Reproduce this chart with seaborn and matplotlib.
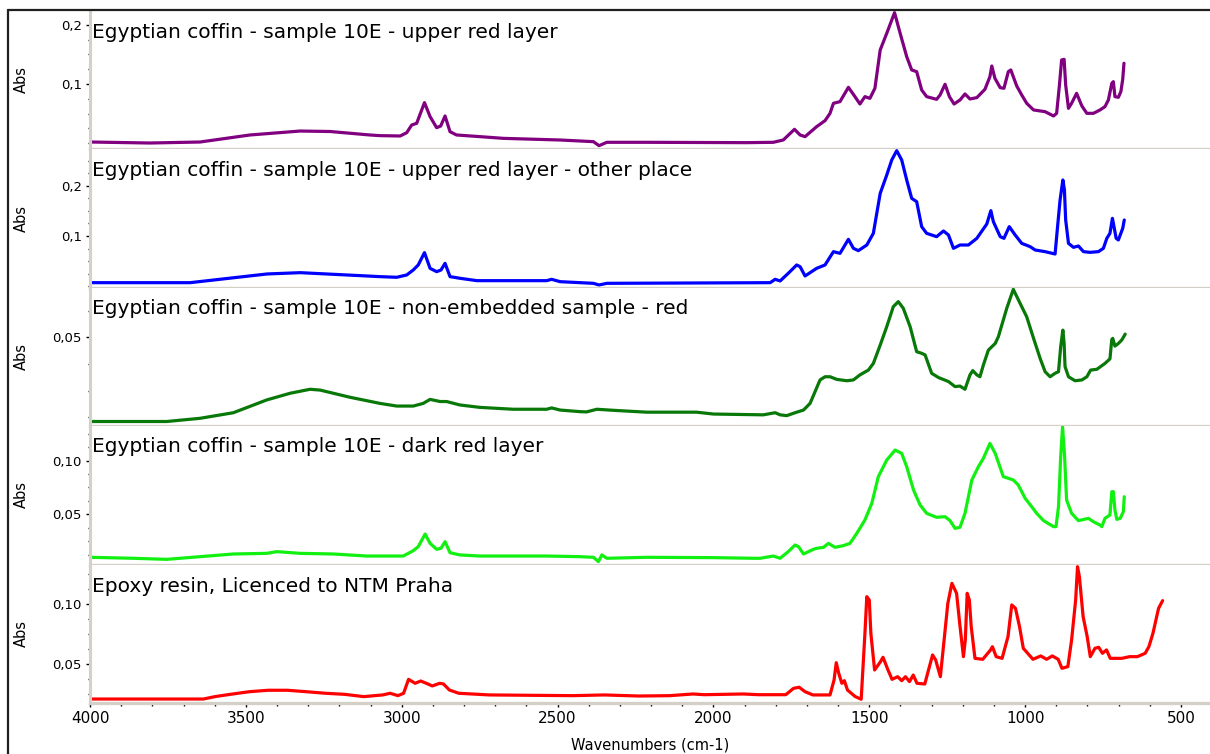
import matplotlib
matplotlib.use("Agg")
import matplotlib.pyplot as plt
from matplotlib.lines import Line2D
from matplotlib.ticker import MultipleLocator
import pandas as pd
import seaborn as sns

# ---- spectra: wavenumber (cm-1) and absorbance ----
purple_wn = [4000, 3808, 3647, 3487, 3326, 3230, 3102, 3070, 3005, 2984, 2968, 2952, 2927, 2909,
             2888, 2875, 2861, 2845, 2824, 2749, 2674, 2492, 2385, 2367, 2342, 2214, 1893, 1808,
             1776, 1740, 1722, 1706, 1669, 1642, 1626, 1615, 1594, 1567, 1546, 1530, 1514, 1498,
             1482, 1465, 1444, 1419, 1401, 1380, 1364, 1348, 1332, 1316, 1284, 1273, 1257, 1243,
             1228, 1209, 1193, 1177, 1155, 1129, 1113, 1107, 1097, 1080, 1068, 1054, 1046, 1027,
             1011, 995, 973, 936, 909, 899, 890, 883, 875, 870, 861, 851, 835, 818, 802, 781, 760,
             744, 733, 722, 717, 712, 701, 693, 687, 683]
purple_abs = [0.0017, 0.0000, 0.0017, 0.0136, 0.0203, 0.0195, 0.0136, 0.0125, 0.0119, 0.0175, 0.0305,
              0.0334, 0.0684, 0.0447, 0.0260, 0.0288, 0.0458, 0.0192, 0.0136, 0.0108, 0.0079, 0.0051,
              0.0023, -0.0045, 0.0012, 0.0012, 0.0006, 0.0012, 0.0051, 0.0232, 0.0136, 0.0108, 0.0277,
              0.0379, 0.0503, 0.0673, 0.0701, 0.0944, 0.0786, 0.0661, 0.0786, 0.0757, 0.0927, 0.1577,
              0.1859, 0.2209, 0.1859, 0.1464, 0.1238, 0.1209, 0.0899, 0.0786, 0.0740, 0.0814, 0.0995,
              0.0786, 0.0661, 0.0729, 0.0831, 0.0746, 0.0769, 0.0910, 0.1125, 0.1305, 0.1096, 0.0938,
              0.0927, 0.1209, 0.1238, 0.0966, 0.0814, 0.0673, 0.0560, 0.0531, 0.0458, 0.0503, 0.0983,
              0.1407, 0.1418, 0.0983, 0.0588, 0.0673, 0.0842, 0.0627, 0.0503, 0.0503, 0.0560, 0.0616,
              0.0729, 0.1012, 0.1040, 0.0786, 0.0774, 0.0870, 0.1079, 0.1351]

blue_wn = [4000, 3679, 3432, 3326, 3111, 3070, 3016, 2984, 2963, 2947, 2927, 2909, 2888, 2874,
           2861, 2845, 2813, 2759, 2535, 2519, 2492, 2385, 2367, 2342, 1818, 1802, 1786, 1760,
           1733, 1722, 1706, 1669, 1642, 1615, 1594, 1567, 1551, 1535, 1508, 1487, 1465, 1444,
           1428, 1412, 1396, 1380, 1364, 1348, 1332, 1316, 1284, 1262, 1246, 1230, 1209, 1182,
           1155, 1123, 1110, 1102, 1080, 1068, 1051, 1032, 1011, 984, 968, 936, 904, 897, 888,
           879, 874, 870, 861, 845, 829, 813, 792, 765, 749, 738, 728, 720, 715, 708, 701, 693,
           687, 682]
blue_abs = [0.0072, 0.0072, 0.0245, 0.0271, 0.0205, 0.0192, 0.0179, 0.0225, 0.0324, 0.0424, 0.0669,
            0.0357, 0.0291, 0.0324, 0.0457, 0.0192, 0.0159, 0.0112, 0.0112, 0.0139, 0.0092, 0.0059,
            0.0026, 0.0059, 0.0072, 0.0139, 0.0106, 0.0258, 0.0424, 0.0390, 0.0205, 0.0357, 0.0424,
            0.0689, 0.0655, 0.0934, 0.0755, 0.0709, 0.0821, 0.1053, 0.1848, 0.2213, 0.2511, 0.2697,
            0.2511, 0.2114, 0.1749, 0.1683, 0.1186, 0.1053, 0.0987, 0.1100, 0.1020, 0.0755, 0.0821,
            0.0821, 0.0954, 0.1239, 0.1504, 0.1285, 0.0987, 0.0954, 0.1186, 0.1020, 0.0854, 0.0788,
            0.0722, 0.0689, 0.0642, 0.1119, 0.1716, 0.2114, 0.1915, 0.1318, 0.0854, 0.0775, 0.0801,
            0.0689, 0.0675, 0.0689, 0.0755, 0.0954, 0.1053, 0.1351, 0.1186, 0.0954, 0.0921, 0.1053,
            0.1153, 0.1318]

dkgreen_wn = [4000, 3754, 3647, 3540, 3433, 3358, 3294, 3262, 3166, 3070, 3016, 2963, 2931, 2909,
              2877, 2856, 2813, 2749, 2642, 2535, 2519, 2492, 2428, 2407, 2374, 2321, 2214, 2054,
              2000, 1893, 1840, 1802, 1786, 1765, 1738, 1711, 1690, 1674, 1658, 1642, 1626, 1604,
              1572, 1551, 1530, 1503, 1487, 1465, 1444, 1423, 1407, 1391, 1369, 1348, 1332, 1321,
              1300, 1278, 1246, 1225, 1209, 1193, 1177, 1168, 1155, 1145, 1134, 1118, 1096, 1086,
              1059, 1038, 1016, 995, 973, 952, 936, 920, 904, 893, 886, 879, 875, 872, 861, 840,
              818, 802, 790, 770, 744, 728, 722, 719, 712, 701, 690, 679]
dkgreen_abs = [0.0184, 0.0184, 0.0196, 0.0217, 0.0265, 0.0290, 0.0305, 0.0302, 0.0275, 0.0252,
               0.0242, 0.0242, 0.0252, 0.0267, 0.0259, 0.0259, 0.0246, 0.0237, 0.0230, 0.0230,
               0.0235, 0.0227, 0.0221, 0.0220, 0.0230, 0.0226, 0.0219, 0.0219, 0.0212, 0.0210,
               0.0209, 0.0217, 0.0209, 0.0206, 0.0217, 0.0227, 0.0252, 0.0296, 0.0340, 0.0352,
               0.0352, 0.0342, 0.0337, 0.0340, 0.0359, 0.0377, 0.0402, 0.0471, 0.0540, 0.0615,
               0.0634, 0.0609, 0.0540, 0.0446, 0.0440, 0.0434, 0.0365, 0.0349, 0.0334, 0.0315,
               0.0317, 0.0305, 0.0359, 0.0375, 0.0359, 0.0352, 0.0396, 0.0452, 0.0477, 0.0502,
               0.0609, 0.0680, 0.0627, 0.0577, 0.0496, 0.0421, 0.0371, 0.0352, 0.0365, 0.0371,
               0.0465, 0.0527, 0.0477, 0.0390, 0.0352, 0.0337, 0.0340, 0.0352, 0.0377, 0.0380,
               0.0402, 0.0419, 0.0492, 0.0496, 0.0467, 0.0477, 0.0490, 0.0512]

ltgreen_wn = [4000, 3861, 3754, 3647, 3540, 3433, 3401, 3326, 3219, 3112, 3070, 2995, 2963, 2947,
              2925, 2909, 2888, 2874, 2861, 2845, 2813, 2749, 2535, 2428, 2385, 2369, 2358, 2342,
              2214, 2000, 1872, 1850, 1808, 1786, 1760, 1738, 1727, 1711, 1679, 1669, 1647, 1631,
              1610, 1583, 1562, 1540, 1514, 1492, 1471, 1444, 1417, 1396, 1380, 1358, 1337, 1316,
              1284, 1257, 1241, 1225, 1209, 1193, 1171, 1150, 1134, 1113, 1096, 1070, 1038, 1022,
              1000, 979, 963, 941, 909, 901, 893, 886, 880, 874, 867, 851, 829, 797, 781, 760, 754,
              744, 728, 722, 717, 712, 706, 695, 685, 682]
ltgreen_abs = [0.0099, 0.0090, 0.0080, 0.0105, 0.0130, 0.0136, 0.0152, 0.0136, 0.0130, 0.0111,
               0.0111, 0.0111, 0.0161, 0.0198, 0.0316, 0.0229, 0.0174, 0.0183, 0.0245, 0.0142,
               0.0121, 0.0111, 0.0111, 0.0105, 0.0099, 0.0059, 0.0121, 0.0090, 0.0099, 0.0096,
               0.0090, 0.0090, 0.0111, 0.0090, 0.0152, 0.0214, 0.0198, 0.0130, 0.0174, 0.0183,
               0.0192, 0.0229, 0.0192, 0.0208, 0.0229, 0.0323, 0.0447, 0.0602, 0.0851, 0.1006,
               0.1099, 0.1068, 0.0944, 0.0726, 0.0587, 0.0509, 0.0472, 0.0478, 0.0441, 0.0369,
               0.0379, 0.0509, 0.0820, 0.0944, 0.1022, 0.1161, 0.1068, 0.0851, 0.0820, 0.0773,
               0.0649, 0.0571, 0.0509, 0.0441, 0.0385, 0.0385, 0.0571, 0.1037, 0.1317, 0.1068,
               0.0633, 0.0509, 0.0441, 0.0462, 0.0431, 0.0400, 0.0385, 0.0462, 0.0494, 0.0711,
               0.0711, 0.0540, 0.0453, 0.0462, 0.0525, 0.0664]

red_wn = [4000, 3636, 3599, 3550, 3489, 3428, 3367, 3306, 3245, 3183, 3122, 3061, 3037, 3012,
          2994, 2978, 2957, 2939, 2921, 2902, 2878, 2866, 2847, 2817, 2719, 2450, 2351, 2239,
          2140, 2066, 2029, 1905, 1855, 1768, 1743, 1725, 1706, 1681, 1626, 1613, 1606, 1598,
          1588, 1580, 1570, 1545, 1526, 1514, 1508, 1500, 1495, 1483, 1464, 1456, 1440, 1427,
          1409, 1396, 1384, 1371, 1359, 1347, 1322, 1310, 1297, 1287, 1272, 1260, 1248, 1235,
          1220, 1210, 1198, 1192, 1186, 1179, 1173, 1161, 1136, 1111, 1105, 1093, 1074, 1055,
          1043, 1031, 1018, 1006, 975, 950, 931, 913, 894, 882, 863, 851, 838, 832, 826, 814,
          801, 791, 776, 764, 752, 739, 727, 690, 665, 640, 615, 603, 590, 572, 559]
red_abs = [0.0208, 0.0208, 0.0228, 0.0247, 0.0269, 0.0281, 0.0281, 0.0269, 0.0256, 0.0247, 0.0228,
           0.0242, 0.0256, 0.0236, 0.0256, 0.0372, 0.0339, 0.0358, 0.0339, 0.0317, 0.0339, 0.0333,
           0.0283, 0.0256, 0.0242, 0.0236, 0.0242, 0.0233, 0.0236, 0.0250, 0.0244, 0.0250, 0.0244,
           0.0244, 0.0297, 0.0306, 0.0269, 0.0242, 0.0242, 0.0367, 0.0511, 0.0422, 0.0339, 0.0361,
           0.0283, 0.0228, 0.0206, 0.0756, 0.1061, 0.1033, 0.0756, 0.0450, 0.0519, 0.0556, 0.0450,
           0.0372, 0.0394, 0.0361, 0.0394, 0.0353, 0.0408, 0.0339, 0.0333, 0.0450, 0.0575, 0.0533,
           0.0394, 0.0700, 0.1006, 0.1172, 0.1089, 0.0839, 0.0561, 0.0700, 0.1089, 0.1033, 0.0811,
           0.0547, 0.0539, 0.0617, 0.0644, 0.0561, 0.0547, 0.0728, 0.0992, 0.0964, 0.0811, 0.0631,
           0.0539, 0.0567, 0.0539, 0.0567, 0.0539, 0.0464, 0.0478, 0.0700, 0.1033, 0.1311, 0.1228,
           0.0894, 0.0728, 0.0561, 0.0631, 0.0639, 0.0589, 0.0617, 0.0547, 0.0547, 0.0561, 0.0561,
           0.0589, 0.0644, 0.0756, 0.0964, 0.1028]

titles = ["Egyptian coffin - sample 10E - upper red layer",
          "Egyptian coffin - sample 10E - upper red layer - other place",
          "Egyptian coffin - sample 10E - non-embedded sample - red",
          "Egyptian coffin - sample 10E - dark red layer",
          "Epoxy resin, Licenced to NTM Praha"]
ytick_values = [[0.1, 0.2], [0.1, 0.2], [0.05], [0.05, 0.10], [0.05, 0.10]]
ytick_labels = [["0,1", "0,2"], ["0,1", "0,2"], ["0,05"], ["0,05", "0,10"], ["0,05", "0,10"]]
xtick_values = [4000, 3500, 3000, 2500, 2000, 1500, 1000, 500]
xtick_labels = ["4000", "3500", "3000", "2500", "2000", "1500", "1000", "500"]

series = [(purple_wn, purple_abs), (blue_wn, blue_abs), (dkgreen_wn, dkgreen_abs),
          (ltgreen_wn, ltgreen_abs), (red_wn, red_abs)]
colors = ["#800080", "#0000ff", "#087808", "#12f012", "#ff0000"]
ylims = [(-0.0093, 0.2237), (-0.0024, 0.274), (0.0169, 0.0687), (0.0032, 0.1328), (0.0179, 0.1329)]
minor_steps = [0.025, 0.025, 0.01, 0.0125, 0.0125]

sns.set_style("white")
plt.rcParams["font.family"] = ["DejaVu Sans"]

W, H = 1210, 754
fig = plt.figure(figsize=(W / 100, H / 100), dpi=100)
edges = [11, 148.5, 287.5, 425.5, 564.5, 702.5]
left_px = 90
sep_color = "#d4d0c8"

for i, ((wn, ab), col) in enumerate(zip(series, colors)):
    top, bot = edges[i], edges[i + 1]
    ax = fig.add_axes([left_px / W, 1 - bot / H, (W - left_px) / W, (bot - top) / H])
    df = pd.DataFrame({"wn": wn, "abs": ab})
    sns.lineplot(data=df, x="wn", y="abs", ax=ax, color=col, linewidth=2.3,
                 estimator=None, sort=False)
    ax.set_xlim(4000, 407)
    ax.set_ylim(*ylims[i])
    ax.set_xlabel("")
    ax.set_ylabel("")
    for s in ("top", "right"):
        ax.spines[s].set_visible(False)
    ax.spines["left"].set_color(sep_color)
    ax.spines["left"].set_linewidth(2.2)
    ax.spines["bottom"].set_color(sep_color)
    ax.spines["bottom"].set_linewidth(2.4)
    ax.set_yticks(ytick_values[i], ytick_labels[i])
    ax.yaxis.set_minor_locator(MultipleLocator(minor_steps[i]))
    ax.tick_params(axis="y", which="major", direction="out", length=3, width=1,
                   colors="black", labelsize=9.5, pad=3, left=True)
    ax.tick_params(axis="y", which="minor", direction="out", length=1.5, width=1,
                   colors="black", left=True)
    if i < 4:
        ax.tick_params(axis="x", which="both", bottom=False, labelbottom=False)
    else:
        ax.set_xticks(xtick_values, xtick_labels)
        ax.xaxis.set_minor_locator(MultipleLocator(100))
        ax.tick_params(axis="x", which="major", direction="out", length=3, width=1,
                       colors="black", labelsize=11, pad=3, bottom=True)
        ax.tick_params(axis="x", which="minor", direction="out", length=2, width=1,
                       colors="black", bottom=True)
    ax.set_facecolor("white")

    baseline = top + 27
    fig.text(92 / W, 1 - baseline / H, titles[i], ha="left", va="baseline",
             fontsize=14.5, color="black")
    fig.text(21 / W, 1 - (top + bot) / 2 / H, "Abs", rotation=90, ha="center",
             va="center", fontsize=10.5, color="black")

fig.text(650 / W, 1 - 745 / H, "Wavenumbers (cm-1)", ha="center", va="center",
         fontsize=10.5, color="black")

# outer frame on the left and top
fig.add_artist(Line2D([8 / W, 8 / W], [0, 1 - 10 / H], transform=fig.transFigure,
                      color="#202020", linewidth=1.6))
fig.add_artist(Line2D([8 / W, 1], [1 - 10 / H, 1 - 10 / H], transform=fig.transFigure,
                      color="#202020", linewidth=1.6))

fig.savefig("out.png", dpi=100, facecolor="white")
